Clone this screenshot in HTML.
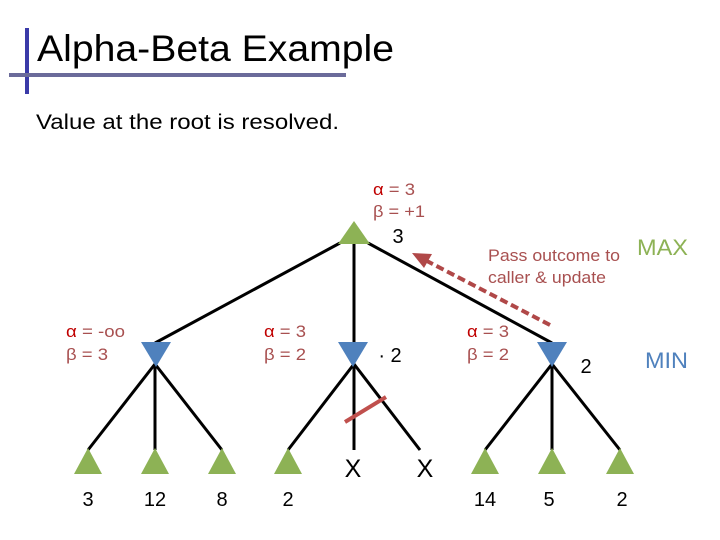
<!DOCTYPE html>
<html><head><style>
body{margin:0;background:#fff;width:720px;height:540px;overflow:hidden}
svg{display:block}
text{font-family:"Liberation Sans",sans-serif}
</style></head><body>
<svg width="720" height="540" viewBox="0 0 720 540">
<rect x="25" y="28" width="4" height="66" fill="#3a3aa8"/>
<rect x="9" y="73" width="337" height="4" fill="#6b6b9a"/>
<text x="37" y="61" font-size="37" fill="#000" textLength="357" lengthAdjust="spacingAndGlyphs">Alpha-Beta Example</text>
<text x="36" y="129" font-size="21" fill="#000" textLength="303" lengthAdjust="spacingAndGlyphs">Value at the root is resolved.</text>

<g stroke="#000" stroke-width="3" fill="none">
<line x1="340" y1="243" x2="155" y2="343"/>
<line x1="354" y1="243" x2="354" y2="343"/>
<line x1="368" y1="243" x2="552" y2="343"/>
<line x1="155" y1="364" x2="88" y2="450"/>
<line x1="155" y1="364" x2="155" y2="450"/>
<line x1="155" y1="364" x2="222" y2="450"/>
<line x1="354" y1="364" x2="288" y2="450"/>
<line x1="354" y1="364" x2="354" y2="450"/>
<line x1="354" y1="364" x2="420" y2="450"/>
<line x1="552" y1="364" x2="485" y2="450"/>
<line x1="552" y1="364" x2="552" y2="450"/>
<line x1="552" y1="364" x2="620" y2="450"/>
</g>
<line x1="345" y1="422" x2="386" y2="397" stroke="#c0504d" stroke-width="4"/>

<polygon points="354,221 338,244 370,244" fill="#8db255"/>
<g fill="#4f81bd">
<polygon points="141,342 171,342 156,367"/>
<polygon points="338,342 368,342 353,367"/>
<polygon points="537,342 567,342 552,367"/>
</g>
<g fill="#8db255">
<polygon points="88,448 74,474 102,474"/>
<polygon points="155,448 141,474 169,474"/>
<polygon points="222,448 208,474 236,474"/>
<polygon points="288,448 274,474 302,474"/>
<polygon points="485,448 471,474 499,474"/>
<polygon points="552,448 538,474 566,474"/>
<polygon points="620,448 606,474 634,474"/>
</g>

<line x1="550" y1="325" x2="425" y2="260" stroke="#b04848" stroke-width="4" stroke-dasharray="8,4"/>
<polygon points="412,253 432,254 424,268" fill="#b04848"/>

<g font-size="17">
<text x="373" y="195" textLength="42" lengthAdjust="spacingAndGlyphs"><tspan fill="#c00000">α</tspan><tspan fill="#a85050"> = 3</tspan></text>
<text x="373" y="217" fill="#a85050" textLength="52" lengthAdjust="spacingAndGlyphs">β = +1</text>
<text x="66" y="337" textLength="59" lengthAdjust="spacingAndGlyphs"><tspan fill="#c00000">α</tspan><tspan fill="#a85050"> = -oo</tspan></text>
<text x="66" y="360" fill="#a85050" textLength="42" lengthAdjust="spacingAndGlyphs">β = 3</text>
<text x="264" y="337" textLength="42" lengthAdjust="spacingAndGlyphs"><tspan fill="#c00000">α</tspan><tspan fill="#a85050"> = 3</tspan></text>
<text x="264" y="360" fill="#a85050" textLength="42" lengthAdjust="spacingAndGlyphs">β = 2</text>
<text x="467" y="337" textLength="42" lengthAdjust="spacingAndGlyphs"><tspan fill="#c00000">α</tspan><tspan fill="#a85050"> = 3</tspan></text>
<text x="467" y="360" fill="#a85050" textLength="42" lengthAdjust="spacingAndGlyphs">β = 2</text>
<text x="488" y="261" fill="#a85050" textLength="132" lengthAdjust="spacingAndGlyphs">Pass outcome to</text>
<text x="488" y="283" fill="#a85050" textLength="118" lengthAdjust="spacingAndGlyphs">caller &amp; update</text>
</g>
<text x="637" y="255" font-size="22" fill="#8db255" textLength="51" lengthAdjust="spacingAndGlyphs">MAX</text>
<text x="645" y="368" font-size="22" fill="#4f81bd" textLength="43" lengthAdjust="spacingAndGlyphs">MIN</text>

<g font-size="20" fill="#000" text-anchor="middle">
<text x="398" y="243">3</text>
<text x="390" y="362">· 2</text>
<text x="586" y="373">2</text>
<text x="353" y="477" font-size="25">X</text>
<text x="425" y="477" font-size="25">X</text>
<text x="88" y="506">3</text>
<text x="155" y="506">12</text>
<text x="222" y="506">8</text>
<text x="288" y="506">2</text>
<text x="485" y="506">14</text>
<text x="549" y="506">5</text>
<text x="622" y="506">2</text>
</g>
</svg>
</body></html>
